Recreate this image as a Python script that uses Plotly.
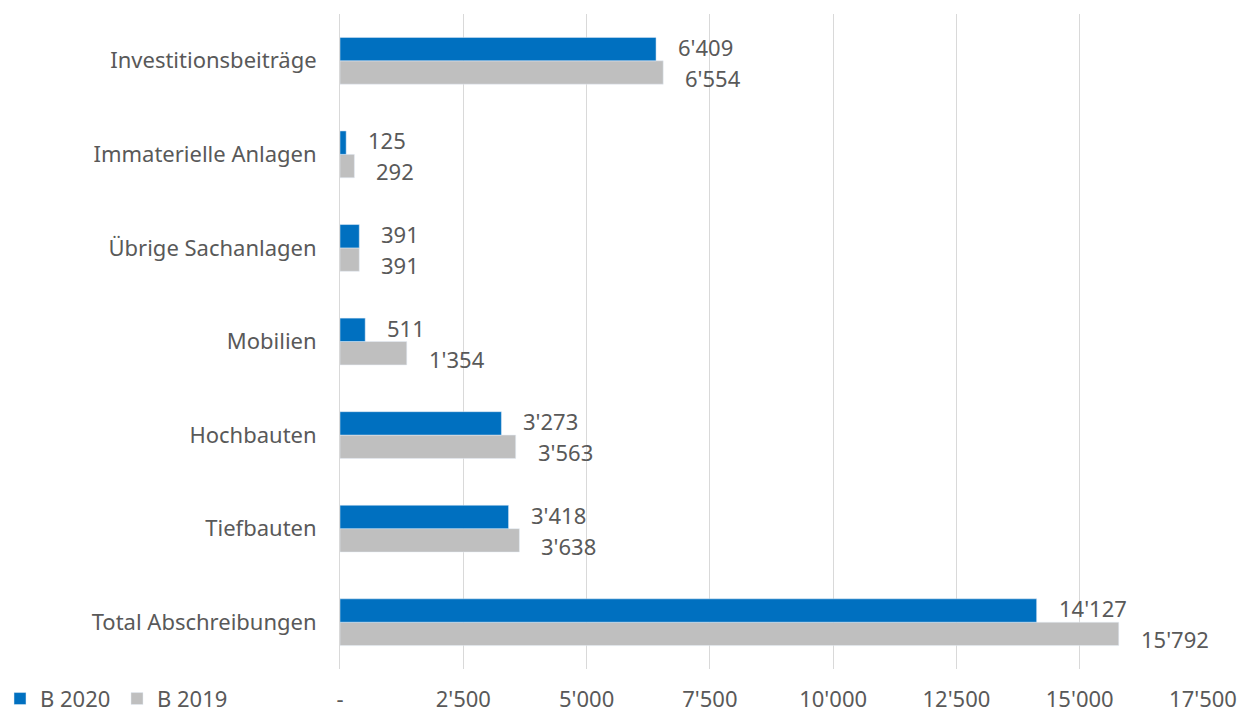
import plotly.graph_objects as go

# Abschreibungen nach Kategorie (bottom to top)
categories = [
    "Total Abschreibungen",
    "Tiefbauten",
    "Hochbauten",
    "Mobilien",
    "Übrige Sachanlagen",
    "Immaterielle Anlagen",
    "Investitionsbeiträge",
]
b2020 = [14127, 3418, 3273, 511, 391, 125, 6409]
b2019 = [15792, 3638, 3563, 1354, 391, 292, 6554]

tick_vals = [0, 2500, 5000, 7500, 10000, 12500, 15000, 17500]
tick_text = ["-", "2'500", "5'000", "7'500", "10'000", "12'500", "15'000", "17'500"]

BLUE = "#0070C0"
GREY = "#BFBFBF"
TEXT = "#595959"
FONT = "Noto Sans"
SIZE = 22


def fmt(v):
    return f"{v:,}".replace(",", "'")


fig = go.Figure()
# B 2019 first so it sits below B 2020 within each group
fig.add_trace(go.Bar(y=categories, x=b2019, name="B 2019", orientation="h",
                     marker_color=GREY, hoverinfo="x+name"))
fig.add_trace(go.Bar(y=categories, x=b2020, name="B 2020", orientation="h",
                     marker_color=BLUE, hoverinfo="x+name"))

annotations = []
for i, cat in enumerate(categories):
    annotations.append(dict(x=b2020[i], y=i, text=fmt(b2020[i]), xanchor="left",
                            yanchor="middle", xshift=20, yshift=14, showarrow=False,
                            font=dict(family=FONT, size=SIZE, color=TEXT)))
    annotations.append(dict(x=b2019[i], y=i, text=fmt(b2019[i]), xanchor="left",
                            yanchor="middle", xshift=20, yshift=-17, showarrow=False,
                            font=dict(family=FONT, size=SIZE, color=TEXT)))

fig.update_layout(
    width=1250, height=713,
    margin=dict(l=340, r=47, t=14, b=44, autoexpand=False),
    paper_bgcolor="white", plot_bgcolor="white",
    barmode="group", bargap=0.5, bargroupgap=0,
    font=dict(family=FONT, size=SIZE, color=TEXT),
    showlegend=True,
    legend=dict(orientation="h", traceorder="reversed",
                xref="container", yref="container",
                x=0.0, y=0.02, xanchor="left", yanchor="middle",
                font=dict(family=FONT, size=SIZE, color=TEXT),
                itemwidth=30, entrywidth=72, bgcolor="rgba(0,0,0,0)"),
    annotations=annotations,
    xaxis=dict(range=[0, 17500], tickvals=tick_vals, ticktext=tick_text,
               showgrid=True, gridcolor="#D9D9D9", gridwidth=1,
               zeroline=False, showline=False, ticks="",
               ticklabelstandoff=15,
               tickfont=dict(family=FONT, size=SIZE, color=TEXT)),
    yaxis=dict(type="category", range=[-0.5, 6.5], showgrid=False,
               showline=True, linecolor="#D9D9D9", linewidth=1,
               ticks="", ticklabelstandoff=18,
               tickfont=dict(family=FONT, size=SIZE, color=TEXT)),
)

fig.write_html("out.html")
